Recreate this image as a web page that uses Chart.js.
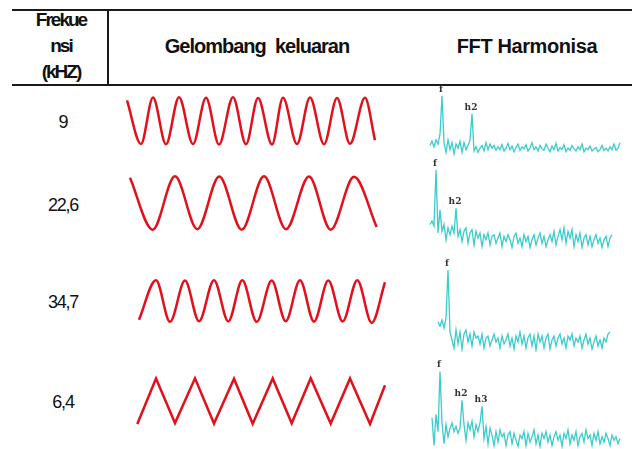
<!DOCTYPE html>
<html>
<head>
<meta charset="utf-8">
<script src="https://cdn.jsdelivr.net/npm/chart.js@4.4.1/dist/chart.umd.min.js"></script>
<style>
  body { margin: 0; background: #fff; }
  #page { position: relative; width: 632px; height: 449px; overflow: hidden; background: #fff;
          font-family: "Liberation Sans", Arial, sans-serif; color: #111; }
  .rule { position: absolute; background: #1a1a1a; }
  .hd { position: absolute; font-weight: bold; font-size: 20px; letter-spacing: -1px;
        text-align: center; line-height: 26px; white-space: pre; }
  .freq { position: absolute; left: 23px; width: 80px; font-size: 18px; letter-spacing: -1.2px;
          text-align: center; line-height: 20px; }
  canvas { position: absolute; }
</style>
</head>
<body>
<div id="page">
  <div class="rule" style="left:12px;top:9px;width:620px;height:2px"></div>
  <div class="rule" style="left:12px;top:84px;width:620px;height:2px"></div>
  <div class="rule" style="left:107px;top:10px;width:1.5px;height:75px"></div>
  <div class="hd" style="left:21px;top:7px;width:80px;font-size:19px;letter-spacing:-2px">Frekue
nsi
(kHZ)</div>
  <div class="hd" style="left:127px;top:33px;width:260px">Gelombang  keluaran</div>
  <div class="hd" style="left:427px;top:33px;width:200px;letter-spacing:-0.4px">FFT Harmonisa</div>
</div>
<script>
// column 1: frequency of each row (kHz)
var freqLabels = ['9', '22,6', '34,7', '6,4'];

// column 2: output waveform, extrema (sample no. / normalised volts)
var wave1T = [7, 21, 33, 46, 59, 73, 86, 99, 113, 126, 138, 152, 163, 177, 190, 204, 217, 230, 245, 255];
var wave1V = [0.85, -0.95, 0.97, -0.96, 0.98, -0.95, 0.96, -0.97, 0.98, -0.96, 0.95, -0.97, 0.96, -0.95, 0.97, -0.96, 0.95, -0.94, 0.96, -0.8];
var wave2T = [10, 32.7, 55, 77.3, 99.3, 121.7, 144, 166, 189, 210.7, 234, 256.7];
var wave2V = [0.95, -1, 1, -0.98, 0.99, -1, 1, -0.98, 0.99, -1, 0.98, -0.9];
var wave3T = [19, 36, 50, 65, 79, 94, 108.3, 122.3, 136.7, 151.7, 165.7, 180, 194, 208.3, 222.7, 237.3, 251.7, 265];
var wave3V = [-0.9, 1, -1, 0.98, -0.97, 1, -0.98, 0.99, -1, 0.98, -0.97, 1, -0.99, 0.98, -0.98, 1, -1.05, 0.9];
var wave4T = [17.3, 36, 55, 75, 94, 114, 132.7, 152.7, 171.7, 190.7, 210.7, 230, 250, 265];
var wave4V = [-1.02, 1, -0.98, 1.01, -1, 0.99, -1.01, 1, -0.99, 1.01, -1, 1, -1.02, 0.7];

// column 3: FFT magnitude per bin (relative), first bin index of each trace
var fftFirstBin = [0, 0, 4, 1];
var fft1 = [18,24,16,26,20,34,89,22,8,26, 12,22,6,20,14,24,8,22,12,18, 26,63,10,16,8,14,18,10,22,12,
            20,14,18,11,16,12,19,10,14,21, 12,17,9,15,20,11,16,13,19,10, 14,22,12,16,10,18,13,11,20,14,
            9,17,12,21,10,15,12,19,9,14, 11,18,13,10,16,12,20,9,14,12, 17,10,13,15,9,12,18,11,14,10,
            16,12,20,11,14,22];
var fft2 = [30,34,28,94,20,47,22,30,12,26, 18,28,20,49,16,24,10,22,26,8, 20,24,6,22,14,20,4,18,12,20,
            6,16,18,8,14,20,4,16,10,18, 12,3,16,20,8,14,4,18,10,16, 3,12,18,6,14,20,8,16,4,12,
            18,10,22,6,16,24,12,26,8,22, 14,24,4,18,10,20,3,14,18,6, 16,4,12,18,8,14,3,12,16,4,
            14,18];
var fft3 = [30,26,32,24,34,82,20,12,4,22, 8,20,3,18,22,10,18,6,20,14, 16,8,18,4,14,16,6,12,18,10,
            14,4,16,8,12,18,6,14,3,16, 10,20,8,16,4,14,18,6,16,2, 18,10,16,4,14,18,3,12,16,6,
            14,18,8,14,4,16,12,18,6,14, 10,16,4,12,18,8,14,3,10,16, 6,12,4,14,10,18,20];
var fft4 = [36,4,40,20,89,30,6,28,14,24, 30,20,26,18,24,56,28,10,30,22, 32,14,28,20,30,49,12,26,6,24,
            16,4,20,8,22,14,18,4,16,20, 6,18,10,3,16,12,20,4,18,8, 14,22,6,16,3,18,12,20,8,16,
            4,14,20,10,16,3,18,12,22,6, 16,10,20,4,14,18,8,22,12,16, 4,18,10,20,6,14,8,18,12,4,
            16,10,14,6,12];
// harmonic markers: [text, index into the trace]
var fft1Marks = [['f', 6], ['h2', 21]];
var fft2Marks = [['f', 3], ['h2', 13]];
var fft3Marks = [['f', 5]];
var fft4Marks = [['f', 4], ['h2', 15], ['h3', 25]];

var RED = '#e2101a';
var CYAN = '#3ccccc';
var page = document.getElementById('page');

function addCanvas(left, top, w, h) {
  var cv = document.createElement('canvas');
  cv.width = w; cv.height = h;
  cv.style.left = left + 'px'; cv.style.top = top + 'px';
  cv.style.width = w + 'px'; cv.style.height = h + 'px';
  page.appendChild(cv);
  return cv.getContext('2d');
}

function baseOpts(xmin, xmax, ymin, ymax) {
  return {
    responsive: false, animation: false, events: [], devicePixelRatio: 1,
    layout: { padding: 0 },
    plugins: { legend: { display: false }, tooltip: { enabled: false } },
    scales: {
      x: { type: 'linear', display: false, min: xmin, max: xmax },
      y: { display: false, min: ymin, max: ymax }
    }
  };
}

function waveChart(left, top, h, t, v, smooth) {
  var c = addCanvas(left, top, 275, h);
  new Chart(c, {
    type: 'line',
    data: { datasets: [{
      data: t.map(function (x, i) { return { x: x, y: v[i] }; }),
      borderColor: RED, borderWidth: 2.5, pointRadius: 0,
      cubicInterpolationMode: smooth ? 'monotone' : 'default', tension: 0
    }] },
    options: baseOpts(0, 275, -1.2, 1.2)
  });
}

function fftChart(top, bottom, vals, first, marks) {
  var head = 12;                       // room for the marker text above the 100 level
  var h = bottom - top + head;
  var c = addCanvas(425, top - head, 200, h);
  var pts = vals.map(function (v, i) { return { x: first + i, y: v }; });
  new Chart(c, {
    type: 'line',
    data: { datasets: [{ data: pts, borderColor: CYAN, borderWidth: 1.3, pointRadius: 0, tension: 0 }] },
    options: baseOpts(-2.5, 97.5, 0, 100 * h / (bottom - top)),
    plugins: [{
      id: 'marks',
      afterDatasetsDraw: function (chart) {
        var ctx = chart.ctx, sx = chart.scales.x, sy = chart.scales.y;
        ctx.save();
        ctx.font = 'bold 9px "DejaVu Serif", serif';
        ctx.fillStyle = '#333';
        ctx.textAlign = 'center';
        ctx.textBaseline = 'bottom';
        marks.forEach(function (m) {
          var p = pts[m[1]];
          ctx.fillText(m[0], sx.getPixelForValue(p.x) - 1, sy.getPixelForValue(p.y) - 2);
        });
        ctx.restore();
      }
    }]
  });
}

// frequency labels
var freqTops = [112, 195, 292, 392];
freqLabels.forEach(function (s, i) {
  var d = document.createElement('div');
  d.className = 'freq';
  d.style.top = freqTops[i] + 'px';
  d.textContent = s;
  page.appendChild(d);
});

waveChart(120, 92, 58, wave1T, wave1V, true);
waveChart(120, 171, 64, wave2T, wave2V, true);
waveChart(120, 276, 50, wave3T, wave3V, true);
waveChart(120, 374, 54, wave4T, wave4V, false);

fftChart(88, 158, fft1, fftFirstBin[0], fft1Marks);
fftChart(165, 250, fft2, fftFirstBin[1], fft2Marks);
fftChart(252, 352, fft3, fftFirstBin[2], fft3Marks);
fftChart(362, 449, fft4, fftFirstBin[3], fft4Marks);
</script>
</body>
</html>
